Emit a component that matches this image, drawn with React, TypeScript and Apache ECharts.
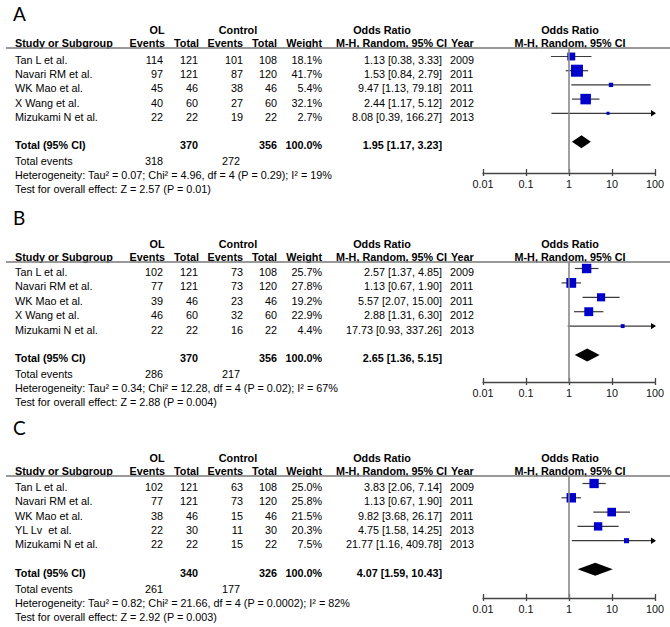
import React, { useEffect, useRef } from "react";
import * as echarts from "echarts";

// ---------- DATA ----------
const PANEL_KEYS = ["A", "B", "C"];
const TICK_LABELS = ["0.01", "0.1", "1", "10", "100"];
const TOTAL_WEIGHT_LABEL = "100.0%";

const studiesA = ["Tan L et al.", "Navari RM et al.", "WK Mao et al.", "X Wang et al.", "Mizukami N et al."];
const olEventsA = [114, 97, 45, 40, 22];
const olTotalA = [121, 121, 46, 60, 22];
const ctrlEventsA = [101, 87, 38, 27, 19];
const ctrlTotalA = [108, 120, 46, 60, 22];
const weightA = [18.1, 41.7, 5.4, 32.1, 2.7];
const orA = [1.13, 1.53, 9.47, 2.44, 8.08];
const loA = [0.38, 0.84, 1.13, 1.17, 0.39];
const hiA = [3.33, 2.79, 79.18, 5.12, 166.27];
const yearA = [2009, 2011, 2011, 2012, 2013];
const pooledA = [1.95, 1.17, 3.23];
const hetA = ["0.07", "4.96", "4", "0.29", "19"];
const testA = ["2.57", "0.01"];

const studiesB = ["Tan L et al.", "Navari RM et al.", "WK Mao et al.", "X Wang et al.", "Mizukami N et al."];
const olEventsB = [102, 77, 39, 46, 22];
const olTotalB = [121, 121, 46, 60, 22];
const ctrlEventsB = [73, 73, 23, 32, 16];
const ctrlTotalB = [108, 120, 46, 60, 22];
const weightB = [25.7, 27.8, 19.2, 22.9, 4.4];
const orB = [2.57, 1.13, 5.57, 2.88, 17.73];
const loB = [1.37, 0.67, 2.07, 1.31, 0.93];
const hiB = [4.85, 1.9, 15.0, 6.3, 337.26];
const yearB = [2009, 2011, 2011, 2012, 2013];
const pooledB = [2.65, 1.36, 5.15];
const hetB = ["0.34", "12.28", "4", "0.02", "67"];
const testB = ["2.88", "0.004"];

const studiesC = ["Tan L et al.", "Navari RM et al.", "WK Mao et al.", "YL Lv  et al.", "Mizukami N et al."];
const olEventsC = [102, 77, 38, 22, 22];
const olTotalC = [121, 121, 46, 30, 22];
const ctrlEventsC = [63, 73, 15, 11, 15];
const ctrlTotalC = [108, 120, 46, 30, 22];
const weightC = [25.0, 25.8, 21.5, 20.3, 7.5];
const orC = [3.83, 1.13, 9.82, 4.75, 21.77];
const loC = [2.06, 0.67, 3.68, 1.58, 1.16];
const hiC = [7.14, 1.9, 26.17, 14.25, 409.78];
const yearC = [2009, 2011, 2011, 2013, 2013];
const pooledC = [4.07, 1.59, 10.43];
const hetC = ["0.82", "21.66", "4", "0.0002", "82"];
const testC = ["2.92", "0.003"];

const DATA = [
  { studies: studiesA, olE: olEventsA, olT: olTotalA, cE: ctrlEventsA, cT: ctrlTotalA, w: weightA, or: orA, lo: loA, hi: hiA, year: yearA, pooled: pooledA, het: hetA, test: testA },
  { studies: studiesB, olE: olEventsB, olT: olTotalB, cE: ctrlEventsB, cT: ctrlTotalB, w: weightB, or: orB, lo: loB, hi: hiB, year: yearB, pooled: pooledB, het: hetB, test: testB },
  { studies: studiesC, olE: olEventsC, olT: olTotalC, cE: ctrlEventsC, cT: ctrlTotalC, w: weightC, or: orC, lo: loC, hi: hiC, year: yearC, pooled: pooledC, het: hetC, test: testC },
];

// ---------- LAYOUT ----------
const LAYOUT = [
  { lineY: 48, axisY: 173, letterY: 13, rowY0: 60, pitch: 14.2 },
  { lineY: 262, axisY: 382, letterY: 217, rowY0: 272, pitch: 14.4 },
  { lineY: 476, axisY: 598, letterY: 427, rowY0: 487, pitch: 14.3 },
];
const FONT = '"Liberation Sans", Arial, sans-serif';
const FS = 10.8;
const PLOT_LEFT = 483;
const PLOT_W = 172;
const MARKER_SHIFT = 3.5;
const SQ = 1.86;
const TOTAL_ROW = 6;

const sum = (a: number[]) => a.reduce((s, v) => s + v, 0);

function txt(text: string, x: number, y: number, align = "left", bold = false, size = FS, family = FONT) {
  return {
    type: "text",
    silent: true,
    x,
    y,
    style: {
      text,
      align,
      verticalAlign: "middle",
      font: `${bold ? "bold " : ""}${size}px ${family}`,
      fill: "#000",
    },
  };
}

function buildOption() {
  const graphic: any[] = [];
  const grid: any[] = [];
  const xAxis: any[] = [];
  const yAxis: any[] = [];
  const series: any[] = [];

  DATA.forEach((d, i) => {
    const L = LAYOUT[i];
    const hdr = L.lineY - 5.5;
    const top = L.lineY - 18.5;
    graphic.push(txt(PANEL_KEYS[i], 13, L.letterY, "left", false, 19, "Lato, 'Open Sans', sans-serif"));
    graphic.push(txt("OL", 157, top, "center", true));
    graphic.push(txt("Control", 238, top, "center", true));
    graphic.push(txt("Odds Ratio", 382, top, "center", true));
    graphic.push(txt("Odds Ratio", 570, top, "center", true));
    graphic.push(txt("Study or Subgroup", 15, hdr, "left", true));
    graphic.push(txt("Events", 165, hdr, "right", true));
    graphic.push(txt("Total", 199, hdr, "right", true));
    graphic.push(txt("Events", 243, hdr, "right", true));
    graphic.push(txt("Total", 277, hdr, "right", true));
    graphic.push(txt("Weight", 322, hdr, "right", true));
    graphic.push(txt("M-H, Random, 95% CI", 447, hdr, "right", true));
    graphic.push(txt("Year", 451, hdr, "left", true));
    graphic.push(txt("M-H, Random, 95% CI", 570, hdr, "center", true));
    graphic.push({
      type: "line",
      silent: true,
      shape: { x1: 6, y1: L.lineY, x2: 670, y2: L.lineY },
      style: { stroke: "#777", lineWidth: 1.5 },
    });

    d.studies.forEach((s, k) => {
      const y = L.rowY0 + k * L.pitch;
      graphic.push(txt(s, 15, y));
      graphic.push(txt(String(d.olE[k]), 163, y, "right"));
      graphic.push(txt(String(d.olT[k]), 198, y, "right"));
      graphic.push(txt(String(d.cE[k]), 243, y, "right"));
      graphic.push(txt(String(d.cT[k]), 277, y, "right"));
      graphic.push(txt(d.w[k].toFixed(1) + "%", 322, y, "right"));
      graphic.push(txt(`${d.or[k].toFixed(2)} [${d.lo[k].toFixed(2)}, ${d.hi[k].toFixed(2)}]`, 442, y, "right"));
      graphic.push(txt(String(d.year[k]), 450, y));
    });

    const ty = L.rowY0 + TOTAL_ROW * L.pitch;
    graphic.push(txt("Total (95% CI)", 15, ty, "left", true));
    graphic.push(txt(String(sum(d.olT)), 198, ty, "right", true));
    graphic.push(txt(String(sum(d.cT)), 277, ty, "right", true));
    graphic.push(txt(TOTAL_WEIGHT_LABEL, 322, ty, "right", true));
    graphic.push(txt(`${d.pooled[0].toFixed(2)} [${d.pooled[1].toFixed(2)}, ${d.pooled[2].toFixed(2)}]`, 442, ty, "right", true));
    graphic.push(txt("Total events", 15, ty + 16));
    graphic.push(txt(String(sum(d.olE)), 163, ty + 16, "right"));
    graphic.push(txt(String(sum(d.cE)), 240, ty + 16, "right"));
    graphic.push(
      txt(
        `Heterogeneity: Tau² = ${d.het[0]}; Chi² = ${d.het[1]}, df = ${d.het[2]} (P = ${d.het[3]}); I² = ${d.het[4]}%`,
        15,
        ty + 30
      )
    );
    graphic.push(txt(`Test for overall effect: Z = ${d.test[0]} (P = ${d.test[1]})`, 15, ty + 44));

    // plot grid
    const height = L.axisY - L.lineY;
    const firstOff = L.rowY0 - MARKER_SHIFT - L.lineY;
    const ymin = -firstOff / L.pitch;
    const ymax = ymin + height / L.pitch;
    grid.push({ left: PLOT_LEFT, width: PLOT_W, top: L.lineY, height });
    const baseX = {
      gridIndex: i,
      type: "log",
      logBase: 10,
      min: 0.01,
      max: 100,
      position: "bottom",
      offset: 0,
      splitLine: { show: false },
      minorTick: { show: false },
    };
    xAxis.push({
      ...baseX,
      axisLine: { show: true, onZero: false, lineStyle: { color: "#444", width: 1.3 } },
      axisTick: { show: true, length: 3, lineStyle: { color: "#444", width: 1.3 } },
      axisLabel: {
        show: true,
        margin: 5,
        fontSize: FS,
        fontFamily: FONT,
        color: "#111",
        formatter: (v: number) => TICK_LABELS[Math.round(Math.log10(v)) + 2],
      },
    });
    xAxis.push({
      ...baseX,
      axisLine: { show: false, onZero: false },
      axisTick: { show: true, inside: true, length: 4, lineStyle: { color: "#444", width: 1.3 } },
      axisLabel: { show: false },
    });
    yAxis.push({ gridIndex: i, type: "value", inverse: true, min: ymin, max: ymax, show: false });

    series.push({
      type: "custom",
      xAxisIndex: 2 * i,
      yAxisIndex: i,
      clip: false,
      silent: true,
      encode: { x: [0, 1, 2], y: 3 },
      data: d.or.map((o, k) => [o, d.lo[k], d.hi[k], k, d.w[k]]),
      renderItem: (params: any, api: any) => {
        const o = api.value(0);
        const lo = api.value(1);
        const hi = api.value(2);
        const row = api.value(3);
        const w = api.value(4);
        const y = api.coord([1, row])[1];
        const xo = api.coord([o, row])[0];
        const xl = api.coord([Math.max(lo, 0.01), row])[0];
        const xh = api.coord([Math.min(hi, 100), row])[0];
        const s = SQ * Math.sqrt(w);
        const children: any[] = [
          {
            type: "line",
            shape: { x1: xl, y1: y, x2: xh, y2: y },
            style: { stroke: "#3a3a3a", lineWidth: 1.2 },
          },
          {
            type: "rect",
            shape: { x: xo - s / 2, y: y - s / 2, width: s, height: s },
            style: { fill: "#0000cc" },
          },
        ];
        if (hi > 100) {
          children.push({
            type: "polygon",
            shape: { points: [[xh - 4, y - 3.2], [xh + 1, y], [xh - 4, y + 3.2]] },
            style: { fill: "#000" },
          });
        }
        if (lo < 0.01) {
          children.push({
            type: "polygon",
            shape: { points: [[xl + 4, y - 3.2], [xl - 1, y], [xl + 4, y + 3.2]] },
            style: { fill: "#000" },
          });
        }
        return { type: "group", children };
      },
      markLine: {
        silent: true,
        symbol: ["none", "none"],
        label: { show: false },
        lineStyle: { color: "#888", width: 1.6, type: "solid" },
        data: [{ xAxis: 1 }],
      },
    });

    series.push({
      type: "custom",
      xAxisIndex: 2 * i,
      yAxisIndex: i,
      clip: false,
      silent: true,
      encode: { x: [0, 1, 2], y: 3 },
      data: [[d.pooled[0], d.pooled[1], d.pooled[2], TOTAL_ROW]],
      renderItem: (params: any, api: any) => {
        const row = api.value(3);
        const c = api.coord([api.value(0), row]);
        const xl = api.coord([api.value(1), row])[0];
        const xh = api.coord([api.value(2), row])[0];
        const h = 6.5;
        return {
          type: "polygon",
          shape: { points: [[xl, c[1]], [c[0], c[1] - h], [xh, c[1]], [c[0], c[1] + h]] },
          style: { fill: "#000" },
        };
      },
    });
  });

  return { animation: false, backgroundColor: "#fff", grid, xAxis, yAxis, series, graphic };
}

export default function App() {
  const ref = useRef<HTMLDivElement>(null);
  useEffect(() => {
    if (!ref.current) return;
    const chart = echarts.init(ref.current, undefined, { renderer: "svg" });
    chart.setOption(buildOption() as any);
    return () => chart.dispose();
  }, []);
  return (
    <div
      ref={ref}
      style={{ position: "absolute", left: 0, top: 0, width: 670, height: 627, background: "#fff" }}
    />
  );
}
